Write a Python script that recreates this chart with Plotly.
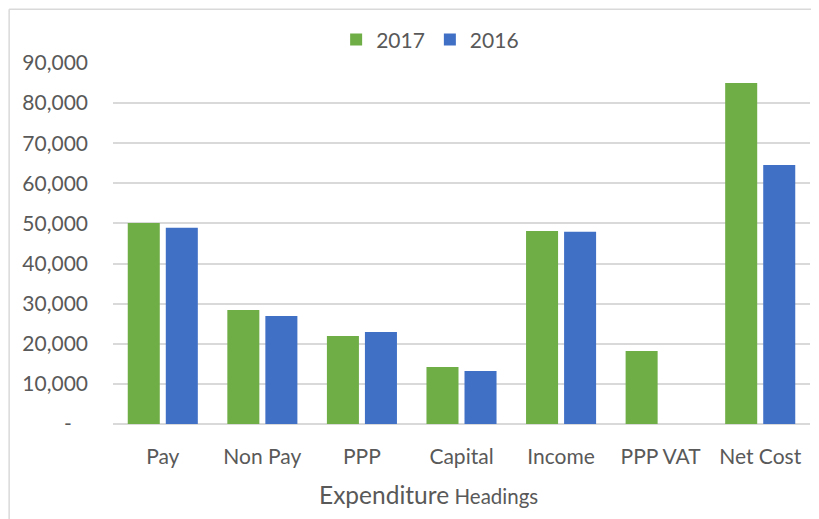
import plotly.graph_objects as go

categories = ["Pay", "Non Pay", "PPP", "Capital", "Income", "PPP VAT", "Net Cost"]
values_2017 = [50100, 28400, 21950, 14200, 48100, 18200, 85000]
values_2016 = [48900, 26950, 22950, 13200, 47900, None, 64600]
tick_vals = [0, 10000, 20000, 30000, 40000, 50000, 60000, 70000, 80000, 90000]
tick_text = ["-\u00a0\u00a0\u00a0", "10,000", "20,000", "30,000", "40,000", "50,000",
             "60,000", "70,000", "80,000", "90,000"]

FONT = "Lato, 'Open Sans', sans-serif"
TXT = "#595959"

fig = go.Figure()
fig.add_trace(go.Bar(name="2017", x=categories, y=values_2017,
                     marker=dict(color="#6fad46", line=dict(width=0))))
fig.add_trace(go.Bar(name="2016", x=categories, y=values_2016,
                     marker=dict(color="#4070c6", line=dict(width=0))))

fig.update_layout(
    width=811, height=511,
    margin=dict(l=105, r=9, t=55, b=95),
    paper_bgcolor="white", plot_bgcolor="white",
    barmode="group", bargap=0.236, bargroupgap=0.158,
    font=dict(family=FONT, size=21, color=TXT),
    showlegend=True,
    legend=dict(orientation="h", x=0.455, xanchor="center", y=1.064, yanchor="middle",
                font=dict(size=21, color=TXT), bgcolor="rgba(0,0,0,0)",
                itemwidth=30, tracegroupgap=0),
    xaxis=dict(showgrid=False, showline=False, zeroline=False, ticks="",
               ticklabelstandoff=18),
    yaxis=dict(range=[0, 90000], tickvals=tick_vals, ticktext=tick_text,
               showgrid=True, gridcolor="#d9d9d9", gridwidth=1.5,
               zeroline=True, zerolinecolor="#d9d9d9", zerolinewidth=1.5,
               showline=False, ticks="", ticklabelstandoff=24),
    annotations=[
        dict(text="<span style='font-size:24.5px'>Expenditure</span> "
                  "<span style='font-size:20.5px'>Headings</span>",
             xref="paper", yref="paper", x=0.452, y=-0.196,
             xanchor="center", yanchor="middle", showarrow=False,
             font=dict(family=FONT, size=21, color=TXT)),
    ],
    shapes=[
        dict(type="line", xref="paper", yref="paper", x0=-0.149, x1=1.02, y0=1.149, y1=1.149,
             line=dict(color="#d9d9d9", width=1.5)),
        dict(type="line", xref="paper", yref="paper", x0=-0.149, x1=-0.149, y0=-0.3, y1=1.149,
             line=dict(color="#d9d9d9", width=1.5)),
    ],
)

fig.write_html("out.html")
